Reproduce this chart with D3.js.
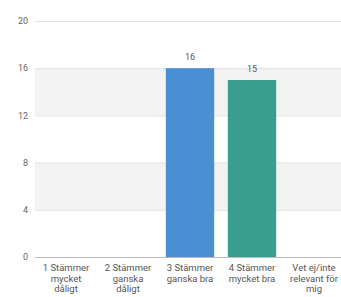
<!DOCTYPE html>
<html>
<head>
<meta charset="utf-8">
<script src="https://cdn.jsdelivr.net/npm/d3@7"></script>
<style>
  body { margin: 0; background: #fff; }
  svg { display: block; font-family: Roboto, "Noto Sans", sans-serif; }
</style>
</head>
<body>
<svg class="chart"></svg>
<script>
const width = 341;
const height = 297;

const categories = [
    ['1 Stämmer', 'mycket', 'dåligt'],
    ['2 Stämmer', 'ganska', 'dåligt'],
    ['3 Stämmer', 'ganska bra'],
    ['4 Stämmer', 'mycket bra'],
    ['Vet ej/inte', 'relevant för', 'mig']
];
const values = [0, 0, 16, 15, 0];
const colors = ['#4a8fd4', '#4a8fd4', '#4a8fd4', '#3a9e8f', '#3a9e8f'];
const yTicks = [0, 4, 8, 12, 16, 20];

const margin = { top: 21, right: -4, bottom: 40, left: 35 };

const chart = d3.select('.chart')
    .attr('width', width)
    .attr('height', height);

const xScale = d3.scaleBand()
    .domain(d3.range(categories.length))
    .range([margin.left, width - margin.right])
    .paddingInner(0.22)
    .paddingOuter(0.11);

const yScale = d3.scaleLinear()
    .domain([0, 20])
    .range([height - margin.bottom, margin.top]);

// alternating bands
chart.append('g')
    .selectAll('rect')
    .data([[4, 8], [12, 16]])
    .enter()
    .append('rect')
    .attr('x', margin.left)
    .attr('width', width - margin.left)
    .attr('y', d => yScale(d[1]))
    .attr('height', d => yScale(d[0]) - yScale(d[1]))
    .attr('fill', '#f3f3f3');

// grid lines
chart.append('g')
    .selectAll('line')
    .data(yTicks.slice(1))
    .enter()
    .append('line')
    .attr('x1', margin.left)
    .attr('x2', width)
    .attr('y1', d => yScale(d) + 0.5)
    .attr('y2', d => yScale(d) + 0.5)
    .attr('stroke', '#e2e2e2');

chart.append('g')
    .selectAll('text')
    .data(yTicks)
    .enter()
    .append('text')
    .attr('x', 28)
    .attr('y', d => yScale(d))
    .attr('dy', '0.35em')
    .attr('text-anchor', 'end')
    .attr('font-size', 9)
    .attr('fill', '#666')
    .text(d => d);

chart.selectAll('.bar')
    .data(values)
    .enter()
    .append('rect')
    .attr('class', 'bar')
    .attr('x', (d, i) => xScale(i))
    .attr('width', xScale.bandwidth())
    .attr('y', d => yScale(d))
    .attr('height', d => yScale(0) - yScale(d))
    .attr('fill', (d, i) => colors[i]);

chart.selectAll('.value')
    .data(values)
    .enter()
    .filter(d => d > 0)
    .append('text')
    .attr('class', 'value')
    .attr('x', (d, i) => xScale(values.indexOf(d)) + xScale.bandwidth() / 2)
    .attr('y', d => yScale(d) - 8)
    .attr('text-anchor', 'middle')
    .attr('font-size', 9)
    .attr('fill', '#555')
    .text(d => d);

// x axis line
chart.append('line')
    .attr('x1', margin.left)
    .attr('x2', width)
    .attr('y1', yScale(0) + 0.5)
    .attr('y2', yScale(0) + 0.5)
    .attr('stroke', '#bbb');

const labels = chart.append('g')
    .selectAll('text')
    .data(categories)
    .enter()
    .append('text')
    .attr('text-anchor', 'middle')
    .attr('font-size', 9.5)
    .attr('fill', '#555')
    .attr('x', (d, i) => xScale(i) + xScale.bandwidth() / 2)
    .attr('y', yScale(0) + 14);

labels.selectAll('tspan')
    .data(d => d)
    .enter()
    .append('tspan')
    .attr('x', function () { return d3.select(this.parentNode).attr('x'); })
    .attr('dy', (d, i) => i === 0 ? 0 : 10.5)
    .text(d => d);
</script>
</body>
</html>
